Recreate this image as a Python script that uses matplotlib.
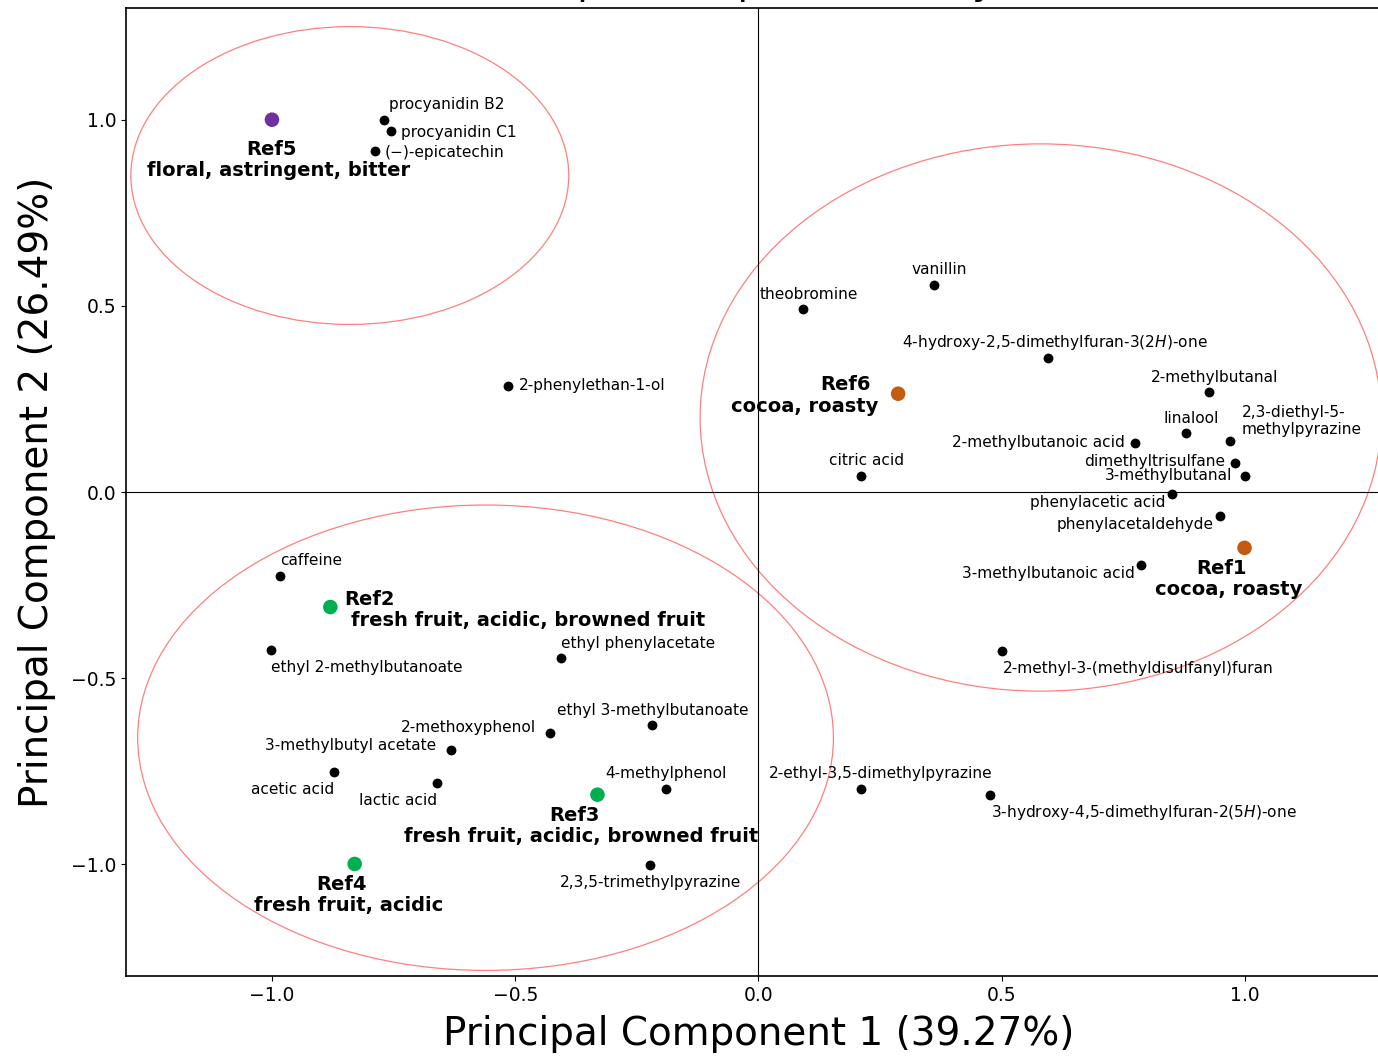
import matplotlib
matplotlib.use("Agg")
import matplotlib.pyplot as plt
from matplotlib.patches import Ellipse

# ---------------- data ----------------
compounds = [
    "procyanidin B2", "procyanidin C1", "(\u2212)-epicatechin",
    "theobromine", "vanillin", "4-hydroxy-2,5-dimethylfuran-3(2$\\mathit{H}$)-one",
    "2-phenylethan-1-ol", "citric acid", "2-methylbutanal", "linalool",
    "2,3-diethyl-5-\nmethylpyrazine", "2-methylbutanoic acid", "dimethyltrisulfane",
    "3-methylbutanal", "phenylacetic acid", "phenylacetaldehyde",
    "3-methylbutanoic acid", "2-methyl-3-(methyldisulfanyl)furan",
    "2-ethyl-3,5-dimethylpyrazine", "3-hydroxy-4,5-dimethylfuran-2(5$\\mathit{H}$)-one",
    "caffeine", "ethyl 2-methylbutanoate", "ethyl phenylacetate",
    "ethyl 3-methylbutanoate", "2-methoxyphenol", "3-methylbutyl acetate",
    "acetic acid", "lactic acid", "4-methylphenol", "2,3,5-trimethylpyrazine",
]
pc1 = [-0.769, -0.756, -0.789,
       0.092, 0.360, 0.596,
       -0.514, 0.210, 0.925, 0.878,
       0.970, 0.773, 0.980,
       0.999, 0.849, 0.948,
       0.787, 0.4995,
       0.210, 0.475,
       -0.983, -1.001, -0.405,
       -0.218, -0.428, -0.633,
       -0.872, -0.660, -0.191, -0.222]
pc2 = [1.000, 0.969, 0.915,
       0.491, 0.556, 0.360,
       0.285, 0.043, 0.268, 0.158,
       0.137, 0.132, 0.078,
       0.043, -0.005, -0.064,
       -0.196, -0.427,
       -0.797, -0.813,
       -0.225, -0.424, -0.446,
       -0.626, -0.647, -0.693,
       -0.752, -0.781, -0.797, -1.001]

ref_names = ["Ref1", "Ref2", "Ref3", "Ref4", "Ref5", "Ref6"]
ref_desc = ["cocoa, roasty", "fresh fruit, acidic, browned fruit",
            "fresh fruit, acidic, browned fruit", "fresh fruit, acidic",
            "floral, astringent, bitter", "cocoa, roasty"]
ref_pc1 = [0.999, -0.880, -0.331, -0.830, -1.000, 0.287]
ref_pc2 = [-0.150, -0.309, -0.813, -0.999, 1.000, 0.264]

# cluster ellipses: centre x, centre y, width, height
ell_cx = [-0.84, 0.58, -0.561]
ell_cy = [0.85, 0.20, -0.660]
ell_w = [0.90, 1.40, 1.43]
ell_h = [0.80, 1.47, 1.25]

xlabel = "Principal Component 1 (39.27%)"
ylabel = "Principal Component 2 (26.49%)"
title = "Principal Component Analysis"
xticks = [-1.0, -0.5, 0.0, 0.5, 1.0]
yticks = [-1.0, -0.5, 0.0, 0.5, 1.0]

# ---------------- styles / layout ----------------
ref_colors = ["#C55A11", "#00B050", "#00B050", "#00B050", "#7030A0", "#C55A11"]
# label placement (dx, dy in pixels, ha)
lab_place = [
    (5, 15, "left"), (10, -1, "left"), (10, -1, "left"),
    (6, 15, "center"), (6, 15, "center"), (6, 15, "center"),
    (10, 0, "left"), (6, 15, "center"), (6, 15, "center"), (6, 15, "center"),
    (11, 20, "left"), (-10, 0, "right"), (-10, 1, "right"),
    (-12, 0, "right"), (-6, -9, "right"), (-6, -9, "right"),
    (-7, -9, "right"), (1, -18, "left"),
    (20, 15, "center"), (1, -18, "left"),
    (0, 15, "left"), (0, -18, "left"), (0, 15, "left"),
    (0, 15, "center"), (-14, 5, "right"), (-14, 5, "right"),
    (0, -18, "right"), (0, -18, "right"), (0, 15, "center"), (0, -18, "center"),
]
# ref label placement: name (dx, dy, ha), desc (dx, dy, ha)
ref_place = [
    ((-23, -21, "center"), (-16, -42, "center")),
    ((14, 8, "left"), (21, -13, "left")),
    ((-23, -21, "center"), (-16, -42, "center")),
    ((-13, -21, "center"), (-6, -42, "center")),
    ((0, -30, "center"), (7, -51, "center")),
    ((-27, 9, "right"), (-20, -13, "right")),
]

W, H = 1378, 1056
fig = plt.figure(figsize=(W / 100, H / 100), dpi=100)
ax = fig.add_axes([126 / W, 80 / H, (1391 - 126) / W, (976 - 8) / H])

for cx, cy, w, h in zip(ell_cx, ell_cy, ell_w, ell_h):
    ax.add_patch(Ellipse((cx, cy), w, h, fill=False, edgecolor="red",
                         alpha=0.5, linewidth=0.9))

ax.axhline(0, color="black", linewidth=0.8)
ax.axvline(0, color="black", linewidth=0.8)

ax.scatter(pc1, pc2, s=50, color="black", linewidths=0, zorder=3)
ax.scatter(ref_pc1, ref_pc2, s=110, c=ref_colors, linewidths=0, zorder=3)

for name, x, y, (dx, dy, ha) in zip(compounds, pc1, pc2, lab_place):
    ax.annotate(name, (x, y), xytext=(dx, dy), textcoords="offset pixels",
                ha=ha, va="center", fontsize=11.1, multialignment="left")

for nm, ds, x, y, (p1, p2) in zip(ref_names, ref_desc, ref_pc1, ref_pc2, ref_place):
    ax.annotate(nm, (x, y), xytext=(p1[0], p1[1]), textcoords="offset pixels",
                ha=p1[2], va="center", fontsize=14, fontweight="bold")
    ax.annotate(ds, (x, y), xytext=(p2[0], p2[1]), textcoords="offset pixels",
                ha=p2[2], va="center", fontsize=14, fontweight="bold")

ax.set_xlim(-1.3, 1.3)
ax.set_ylim(-1.3, 1.3)
ax.set_xticks(xticks)
ax.set_yticks(yticks)
ax.tick_params(labelsize=13.5)
ax.set_xlabel(xlabel, fontsize=28, labelpad=7.5)
ax.set_ylabel(ylabel, fontsize=28, labelpad=10.5)
ax.set_title(title, fontsize=28, pad=10)
for sp in ax.spines.values():
    sp.set_linewidth(1.2)

fig.savefig("out.png", dpi=100)
